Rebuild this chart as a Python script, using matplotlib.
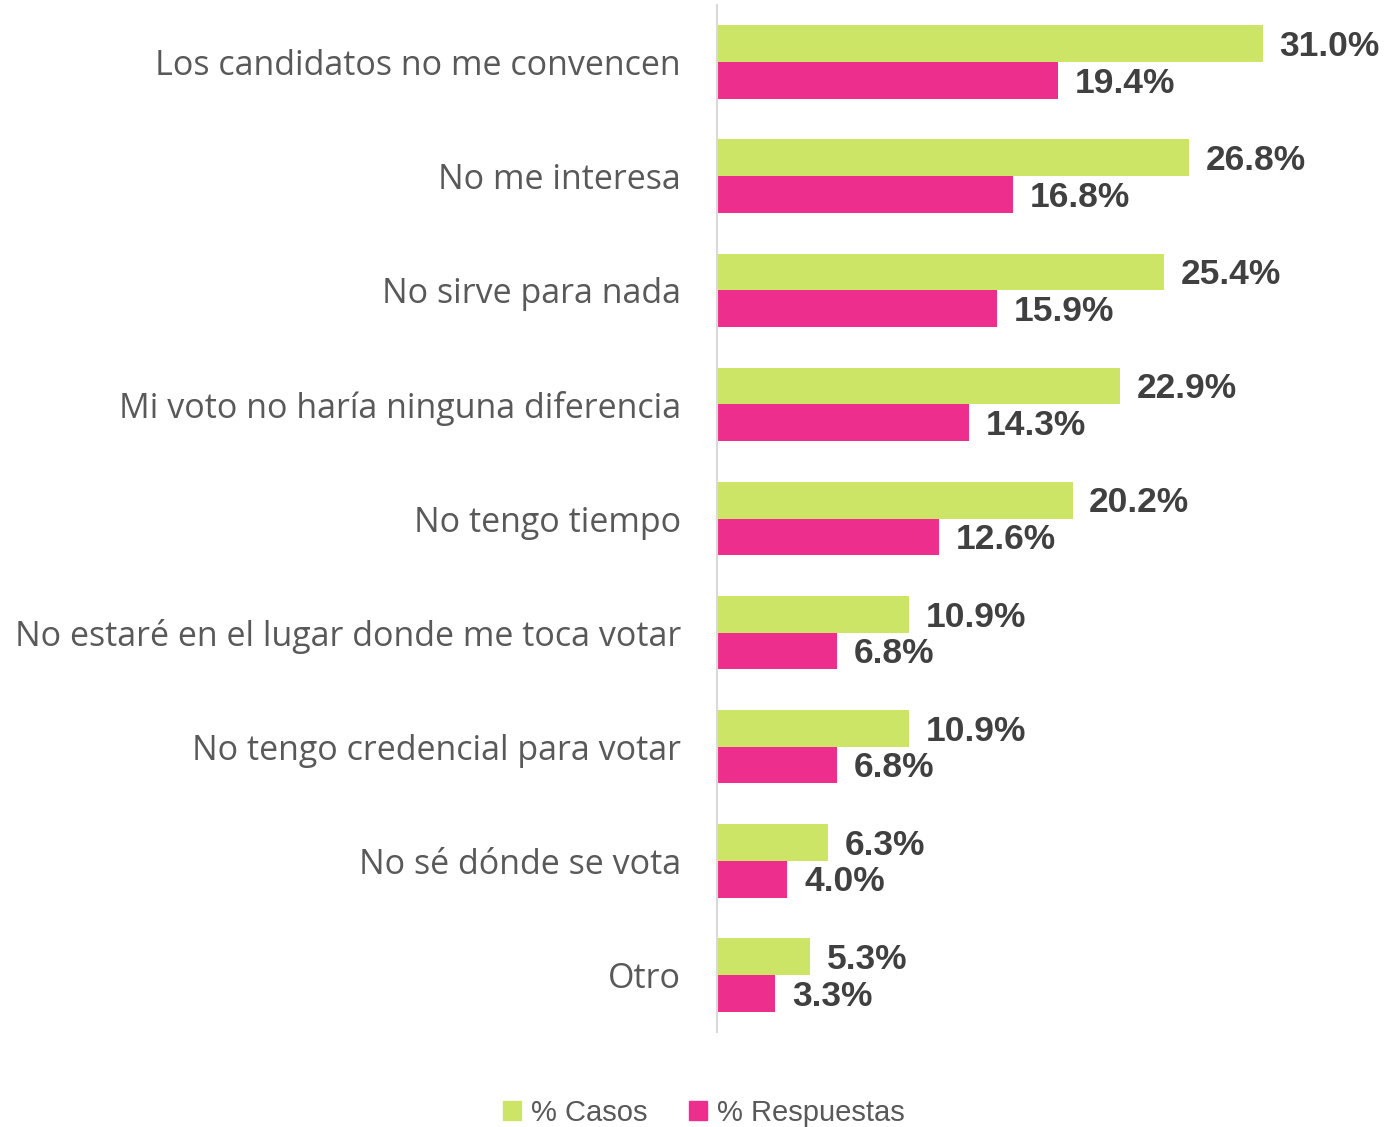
import matplotlib
matplotlib.use("Agg")
import matplotlib.pyplot as plt
import numpy as np
from matplotlib.patches import Patch

categories = [
    "Los candidatos no me convencen",
    "No me interesa",
    "No sirve para nada",
    "Mi voto no haría ninguna diferencia",
    "No tengo tiempo",
    "No estaré en el lugar donde me toca votar",
    "No tengo credencial para votar",
    "No sé dónde se vota",
    "Otro",
]
casos = [31.0, 26.8, 25.4, 22.9, 20.2, 10.9, 10.9, 6.3, 5.3]
respuestas = [19.4, 16.8, 15.9, 14.3, 12.6, 6.8, 6.8, 4.0, 3.3]
series_names = ["% Casos", "% Respuestas"]

green = "#cce566"
pink = "#ed2e8c"
label_grey = "#595959"
value_dark = "#404040"

fig = plt.figure(figsize=(13.86, 11.27), dpi=100)
ax = fig.add_axes([717 / 1386, 95 / 1127, 669 / 1386, 1027 / 1127])

y = np.arange(len(categories))
h = 0.322
ax.barh(y - h / 2, casos, height=h, color=green)
ax.barh(y + h / 2, respuestas, height=h, color=pink)

ax.set_xlim(0, 669 / 17.6)
ax.set_ylim(len(categories) - 0.5, -0.5)

value_font = dict(fontsize=25.5, fontweight="bold", color=value_dark, family="Liberation Sans")
for yi, v in zip(y, casos):
    ax.annotate(f"{v:.1f}%", (v, yi - h / 2), xytext=(12, -2), textcoords="offset points",
                va="center", ha="left", **value_font)
for yi, v in zip(y, respuestas):
    ax.annotate(f"{v:.1f}%", (v, yi + h / 2), xytext=(12, -2), textcoords="offset points",
                va="center", ha="left", **value_font)

ax.set_yticks(y)
ax.set_yticklabels(categories, fontsize=24.5, color=label_grey, family="Open Sans")
ax.tick_params(axis="y", length=0, pad=26)
ax.set_xticks([])

for s in ["top", "right", "bottom"]:
    ax.spines[s].set_visible(False)
ax.spines["left"].set_color("#d9d9d9")
ax.spines["left"].set_linewidth(1.5)

handles = [Patch(color=green, label=series_names[0]), Patch(color=pink, label=series_names[1])]
fig.legend(handles=handles, loc="center", bbox_to_anchor=(704 / 1386, 1 - 1113 / 1127),
           ncol=2, frameon=False, handlelength=0.62, handleheight=0.62, handletextpad=0.35,
           columnspacing=1.4, prop={"family": "Liberation Sans", "size": 21}, labelcolor=label_grey,
           borderpad=0.1)

fig.savefig("out.png", dpi=100, facecolor="white")
